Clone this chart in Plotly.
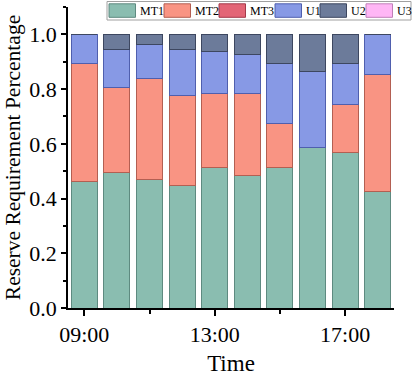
import plotly.graph_objects as go

hours = [9, 10, 11, 12, 13, 14, 15, 16, 17, 18]
tick_vals = [9, 13, 17]
tick_text = ['09:00', '13:00', '17:00']

mt1 = [0.462, 0.497, 0.469, 0.447, 0.515, 0.486, 0.512, 0.585, 0.567, 0.424]
mt2 = [0.432, 0.308, 0.370, 0.330, 0.268, 0.297, 0.164, 0.000, 0.177, 0.428]
mt3 = [0, 0, 0, 0, 0, 0, 0, 0, 0, 0]
u1 = [0.106, 0.139, 0.123, 0.167, 0.153, 0.143, 0.217, 0.278, 0.149, 0.148]
u2 = [0.000, 0.056, 0.038, 0.056, 0.064, 0.074, 0.107, 0.137, 0.107, 0.000]
u3 = [0, 0, 0, 0, 0, 0, 0, 0, 0, 0]

series = [
    ('MT1', mt1, '#8abdb0', '#5e8a80', 1),
    ('MT2', mt2, '#f99483', '#b35f52', 1),
    ('MT3', mt3, '#e36576', '#a33a4a', 0),
    ('U1', u1, '#8799e5', '#4f5fae', 1),
    ('U2', u2, '#6c7b9a', '#3d4760', 1),
    ('U3', u3, '#ffb6f5', '#c080b8', 0),
]

FONT = 'Times New Roman, Liberation Serif, serif'
W, H = 415, 378
L, R, T, B = 68, 21, 7, 70
PW, PH = W - L - R, H - T - B

def px(x):
    return (x - L) / PW

def py(y):
    return (H - B - y) / PH

fig = go.Figure()
for name, vals, color, edge, lw in series:
    fig.add_trace(go.Bar(
        x=hours, y=vals, name=name, showlegend=False,
        marker=dict(color=color, line=dict(color=edge, width=lw)),
        width=0.8,
    ))

# hand-drawn legend box across the top (plotly's own legend wraps here)
fig.add_shape(type='rect', xref='paper', yref='paper',
              x0=px(107), x1=px(411), y0=py(20), y1=py(1.5),
              line=dict(color='#a0a0a0', width=1), fillcolor='white', layer='above')
swatch_left = [109, 164, 219, 275, 320, 366]
for (name, vals, color, edge, lw), x0 in zip(series, swatch_left):
    fig.add_shape(type='rect', xref='paper', yref='paper',
                  x0=px(x0), x1=px(x0 + 26.5), y0=py(17.3), y1=py(3.8),
                  line=dict(color=edge, width=1), fillcolor=color, layer='above')
    fig.add_annotation(xref='paper', yref='paper', x=px(x0 + 29), y=py(11),
                       text=name, showarrow=False, xanchor='left', yanchor='middle',
                       font=dict(size=12, family=FONT, color='black'))

fig.update_layout(
    barmode='stack',
    width=W, height=H,
    margin=dict(l=L, r=R, t=T, b=B, autoexpand=False),
    plot_bgcolor='white',
    paper_bgcolor='white',
    font=dict(family=FONT, size=22, color='black'),
    xaxis=dict(
        range=[8.5, 18.5],
        tickvals=tick_vals, ticktext=tick_text,
        ticks='outside', ticklen=6, tickwidth=1.5, tickcolor='black',
        minor=dict(tickvals=[11, 15], ticks='outside', ticklen=4, tickcolor='black', tickwidth=1.5),
        showline=True, linecolor='black', linewidth=1.5,
        showgrid=False, zeroline=False,
        title=dict(text='Time', standoff=9, font=dict(size=23)),
    ),
    yaxis=dict(
        range=[0, 1.1],
        tickvals=[0, 0.2, 0.4, 0.6, 0.8, 1.0], tickformat='.1f',
        ticks='outside', ticklen=5, tickwidth=1.5, tickcolor='black',
        minor=dict(dtick=0.1, ticks='outside', ticklen=3, tickcolor='black', tickwidth=1.5),
        showline=True, linecolor='black', linewidth=1.5,
        showgrid=False, zeroline=False,
        title=dict(text='Reserve Requirement Percentage', standoff=3, font=dict(size=21.5)),
    ),
)

# page body has a default 8px margin; drop it so the figure sits at the corner
fig.write_html('out.html', config={'displayModeBar': False},
               post_script="document.body.style.margin='0px';")
